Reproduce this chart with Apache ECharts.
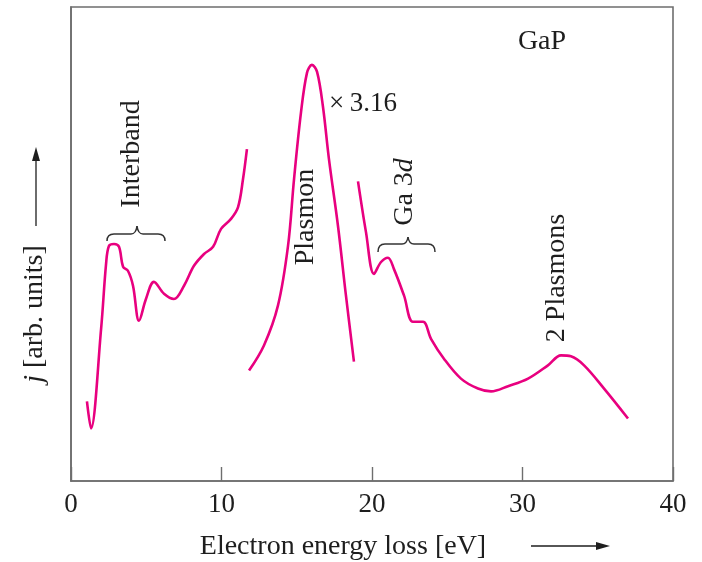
<!DOCTYPE html>
<html>
<head>
<meta charset="utf-8">
<script src="https://cdn.jsdelivr.net/npm/echarts@6/dist/echarts.min.js"></script>
<style>
  html, body { margin: 0; padding: 0; background: #fff; }
  #chart { width: 702px; height: 562px; }
</style>
</head>
<body>
<div id="chart"></div>
<script>
// Energy-loss spectrum of GaP, three separately scaled pieces
const interbandE = [1.06, 1.33, 2.0, 2.33, 2.52, 2.86, 3.19, 3.46, 3.79, 4.12, 4.52, 4.98, 5.51, 6.18, 6.84, 7.51, 8.17, 8.84, 9.44, 9.97, 10.63, 11.10, 11.43, 11.69];
const interbandJ = [16.8, 11.1, 32.1, 45.8, 49.6, 50.0, 49.4, 45.2, 44.3, 41.2, 33.8, 38.4, 42.0, 39.5, 38.4, 41.2, 45.4, 47.9, 49.4, 53.2, 55.3, 57.8, 63.7, 70.0];

// plasmon peak, drawn magnified x3.16
const plasmonE = [11.83, 12.82, 13.75, 14.42, 14.82, 15.28, 15.68, 16.01, 16.35, 16.74, 17.14, 17.74, 18.27, 18.80];
const plasmonJ = [23.3, 28.6, 37.0, 49.6, 63.7, 77.7, 86.1, 87.8, 86.3, 79.0, 67.9, 53.8, 39.1, 25.2];

// Ga 3d region and double plasmon
const highE = [19.07, 19.60, 20.13, 20.60, 21.06, 21.46, 22.13, 22.72, 23.39, 23.92, 24.78, 25.91, 27.04, 27.91, 29.04, 30.37, 31.69, 32.56, 33.22, 34.09, 35.42, 37.01];
const highJ = [63.2, 52.5, 43.7, 46.2, 47.1, 44.7, 39.1, 33.6, 33.6, 30.0, 25.8, 21.6, 19.5, 18.9, 20.0, 21.6, 24.4, 26.5, 26.3, 24.4, 19.5, 13.2];

const xTicks = [0, 10, 20, 30, 40];

const pairs = (xs, ys) => xs.map((x, i) => [x, ys[i]]);

const FONT = '"Liberation Serif", "Times New Roman", serif';
const INK = '#1e1e1e';
const CURVE = '#e8007f';
const FRAME = '#6e6e6e';

const chart = echarts.init(document.getElementById('chart'));

const lineSeries = (data) => ({
  type: 'line',
  data: data,
  showSymbol: false,
  smooth: 0.35,
  lineStyle: { color: CURVE, width: 2.6 },
  silent: true,
  animation: false
});

function vText(x, y, text, extra) {
  return Object.assign({
    type: 'text', x: x, y: y, rotation: Math.PI / 2,
    style: {
      text: text, font: '28px ' + FONT, fill: INK,
      textAlign: 'center', textVerticalAlign: 'middle'
    }
  }, extra || {});
}

// horizontal curly brace with its point facing up
function brace(xl, xr, yEnd, yLine, xTip, yTip) {
  const st = { fill: null, stroke: '#333', lineWidth: 1.5 };
  const r = 7;
  return [
    { type: 'bezierCurve', shape: { x1: xl, y1: yEnd, cpx1: xl, cpy1: yLine, x2: xl + r, y2: yLine }, style: st },
    { type: 'line', shape: { x1: xl + r, y1: yLine, x2: xTip - 6, y2: yLine }, style: st },
    { type: 'bezierCurve', shape: { x1: xTip - 6, y1: yLine, cpx1: xTip - 1, cpy1: yLine, x2: xTip, y2: yTip }, style: st },
    { type: 'bezierCurve', shape: { x1: xTip, y1: yTip, cpx1: xTip + 1, cpy1: yLine, x2: xTip + 6, y2: yLine }, style: st },
    { type: 'line', shape: { x1: xTip + 6, y1: yLine, x2: xr - r, y2: yLine }, style: st },
    { type: 'bezierCurve', shape: { x1: xr - r, y1: yLine, cpx1: xr, cpy1: yLine, x2: xr, y2: yEnd }, style: st }
  ];
}

chart.setOption({
  animation: false,
  backgroundColor: '#fff',
  grid: {
    left: 71, right: 29, top: 7, bottom: 81,
    show: true, borderColor: FRAME, borderWidth: 1.6
  },
  xAxis: {
    type: 'value', min: 0, max: 40, interval: 10,
    axisLine: { show: true, lineStyle: { color: FRAME, width: 1.6 } },
    axisTick: { show: true, inside: true, length: 14, lineStyle: { color: FRAME, width: 1.4 } },
    splitLine: { show: false },
    axisLabel: {
      margin: 10, color: INK, fontFamily: FONT, fontSize: 27,
      formatter: v => (xTicks.indexOf(v) >= 0 ? String(v) : '')
    }
  },
  yAxis: {
    type: 'value', min: 0, max: 100,
    axisLine: { show: true, lineStyle: { color: FRAME, width: 1.6 } },
    axisTick: { show: false },
    axisLabel: { show: false },
    splitLine: { show: false }
  },
  series: [
    lineSeries(pairs(interbandE, interbandJ)),
    lineSeries(pairs(plasmonE, plasmonJ)),
    lineSeries(pairs(highE, highJ))
  ],
  graphic: [
    // axis titles
    {
      type: 'text', x: 343, y: 547,
      style: { text: 'Electron energy loss [eV]', font: '28px ' + FONT, fill: INK, textAlign: 'center', textVerticalAlign: 'middle' }
    },
    { type: 'line', shape: { x1: 531, y1: 546, x2: 600, y2: 546 }, style: { stroke: INK, lineWidth: 1.3 } },
    { type: 'polygon', shape: { points: [[610, 546], [596, 542], [596, 550]] }, style: { fill: INK } },
    {
      type: 'text', x: 35, y: 314, rotation: Math.PI / 2,
      style: {
        text: '{i|j} [arb. units]', font: '28px ' + FONT, fill: INK,
        textAlign: 'center', textVerticalAlign: 'middle',
        rich: { i: { fontStyle: 'italic', fontFamily: FONT, fontSize: 28, fill: INK } }
      }
    },
    { type: 'line', shape: { x1: 36, y1: 226, x2: 36, y2: 158 }, style: { stroke: INK, lineWidth: 1.3 } },
    { type: 'polygon', shape: { points: [[36, 147], [32, 161], [40, 161]] }, style: { fill: INK } },

    // annotations
    { type: 'text', x: 542, y: 42, style: { text: 'GaP', font: '28px ' + FONT, fill: INK, textAlign: 'center', textVerticalAlign: 'middle' } },
    { type: 'text', x: 329, y: 104, style: { text: '\u00d7\u20093.16', font: '27px ' + FONT, fill: INK, textAlign: 'left', textVerticalAlign: 'middle' } },
    vText(132, 154, 'Interband'),
    ...brace(107, 165, 241, 234, 137, 226),
    vText(306, 217, 'Plasmon'),
    {
      type: 'text', x: 405, y: 192, rotation: Math.PI / 2,
      style: {
        text: 'Ga 3{i|d}', font: '28px ' + FONT, fill: INK,
        textAlign: 'center', textVerticalAlign: 'middle',
        rich: { i: { fontStyle: 'italic', fontFamily: FONT, fontSize: 28, fill: INK } }
      }
    },
    ...brace(378, 435, 252, 244, 408, 237),
    vText(557, 278, '2 Plasmons')
  ]
});
</script>
</body>
</html>
